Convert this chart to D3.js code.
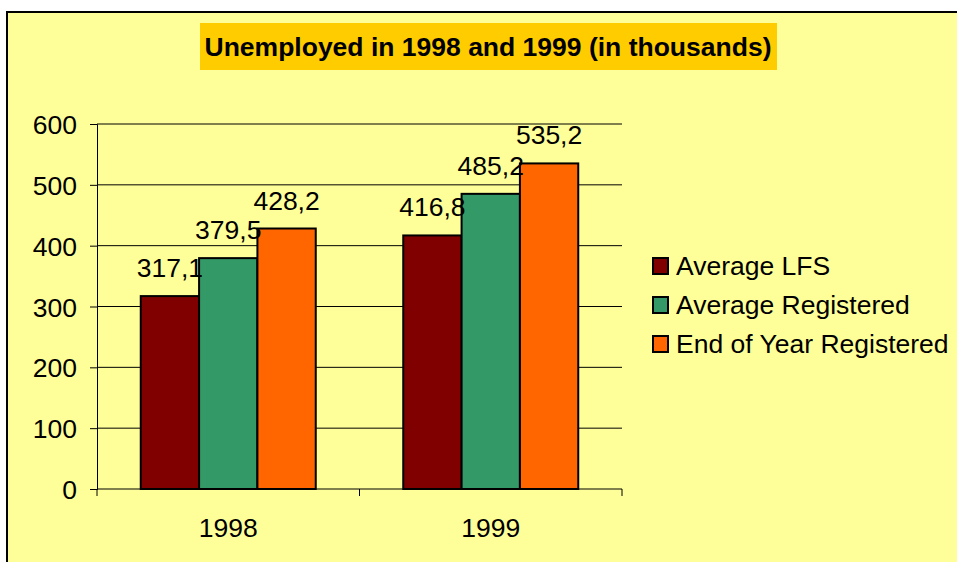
<!DOCTYPE html>
<html>
<head>
<meta charset="utf-8">
<script src="https://cdn.jsdelivr.net/npm/d3@7"></script>
<style>
  body { margin: 0; background: #ffffff; }
  svg text { font-family: "Liberation Sans", Arial, sans-serif; fill: #000; }
</style>
</head>
<body>
<svg id="chart" width="957" height="562"></svg>
<script>
const years = ["1998", "1999"]
const seriesNames = ["Average LFS", "Average Registered", "End of Year Registered"]
const seriesColors = ["#800000", "#339966", "#ff6600"]
const averageLFS = [317.1, 416.8]
const averageRegistered = [379.5, 485.2]
const endOfYearRegistered = [428.2, 535.2]
const yTicks = [0, 100, 200, 300, 400, 500, 600]
const titleText = "Unemployed in 1998 and 1999 (in thousands)"

const seriesValues = [averageLFS, averageRegistered, endOfYearRegistered]
const fmt = v => d3.format(".1f")(v).replace(".", ",")
const fontSize = "26.5px"

const svg = d3.select("#chart")

// chart background + border
svg.append("rect")
  .attr("x", 7).attr("y", 12)
  .attr("width", 960).attr("height", 560)
  .attr("fill", "#ffff99")
  .attr("stroke", "#000")
  .attr("stroke-width", 2)

// title box
svg.append("rect")
  .attr("x", 200).attr("y", 23)
  .attr("width", 577).attr("height", 47)
  .attr("fill", "#ffcc00")
svg.append("text")
  .attr("x", 488).attr("y", 56)
  .attr("text-anchor", "middle")
  .attr("font-size", fontSize)
  .attr("font-weight", "bold")
  .text(titleText)

const plot = { left: 97, right: 622, top: 124, bottom: 489 }

const y = d3.scaleLinear()
  .domain([0, 600])
  .range([plot.bottom, plot.top])

const x0 = d3.scaleBand()
  .domain(years)
  .range([plot.left, plot.right])
  .paddingInner(0)
  .paddingOuter(0)

const x1 = d3.scaleBand()
  .domain(d3.range(seriesNames.length))
  .range([0, x0.bandwidth()])
  .paddingOuter(0.75)
  .paddingInner(0)

// gridlines
svg.append("g")
  .selectAll("line")
  .data(yTicks.filter(d => d > 0))
  .enter().append("line")
    .attr("x1", plot.left).attr("x2", plot.right)
    .attr("y1", d => y(d)).attr("y2", d => y(d))
    .attr("stroke", "#000")
    .attr("stroke-width", 1)

// y axis
const yAxisG = svg.append("g")
  .attr("transform", "translate(" + plot.left + ",0)")
  .call(d3.axisLeft(y).tickValues(yTicks).tickSize(7).tickPadding(13).tickFormat(d3.format("d")))
yAxisG.select(".domain").attr("stroke", "#000")
yAxisG.selectAll(".tick line").attr("stroke", "#000")
yAxisG.selectAll(".tick text")
  .attr("font-size", fontSize)
  .attr("font-family", "Liberation Sans, Arial, sans-serif")
  .attr("dy", "0.36em")

// bars
const groups = svg.append("g")
  .selectAll("g")
  .data(years)
  .enter().append("g")
    .attr("transform", d => "translate(" + x0(d) + ",0)")

groups.selectAll("rect")
  .data((yr, i) => seriesValues.map((vals, s) => ({ s: s, v: vals[i] })))
  .enter().append("rect")
    .attr("x", d => x1(d.s))
    .attr("width", x1.bandwidth())
    .attr("y", d => y(d.v))
    .attr("height", d => y(0) - y(d.v))
    .attr("fill", d => seriesColors[d.s])
    .attr("stroke", "#000")
    .attr("stroke-width", 2)

groups.selectAll("text.val")
  .data((yr, i) => seriesValues.map((vals, s) => ({ s: s, v: vals[i] })))
  .enter().append("text")
    .attr("class", "val")
    .attr("x", d => x1(d.s) + x1.bandwidth() / 2)
    .attr("y", d => y(d.v) - 19)
    .attr("text-anchor", "middle")
    .attr("font-size", fontSize)
    .text(d => fmt(d.v))

// x axis
const xAxisG = svg.append("g")
  .attr("transform", "translate(0," + plot.bottom + ")")
xAxisG.append("line")
  .attr("x1", plot.left).attr("x2", plot.right)
  .attr("stroke", "#000")
xAxisG.selectAll("line.tk")
  .data([plot.left, plot.left + x0.bandwidth(), plot.right])
  .enter().append("line")
    .attr("class", "tk")
    .attr("x1", d => d).attr("x2", d => d)
    .attr("y1", 0).attr("y2", 7)
    .attr("stroke", "#000")
xAxisG.selectAll("text")
  .data(years)
  .enter().append("text")
    .attr("x", d => x0(d) + x0.bandwidth() / 2)
    .attr("y", 48)
    .attr("text-anchor", "middle")
    .attr("font-size", fontSize)
    .text(d => d)

// legend
const legend = svg.append("g")
  .attr("transform", "translate(652,257)")
const rows = legend.selectAll("g")
  .data(seriesNames)
  .enter().append("g")
    .attr("transform", (d, i) => "translate(0," + (i * 39) + ")")
rows.append("rect")
  .attr("x", 1).attr("y", 1)
  .attr("width", 15).attr("height", 16)
  .attr("fill", (d, i) => seriesColors[i])
  .attr("stroke", "#000")
  .attr("stroke-width", 2)
rows.append("text")
  .attr("x", 24).attr("y", 18)
  .attr("font-size", fontSize)
  .text(d => d)
</script>
</body>
</html>
